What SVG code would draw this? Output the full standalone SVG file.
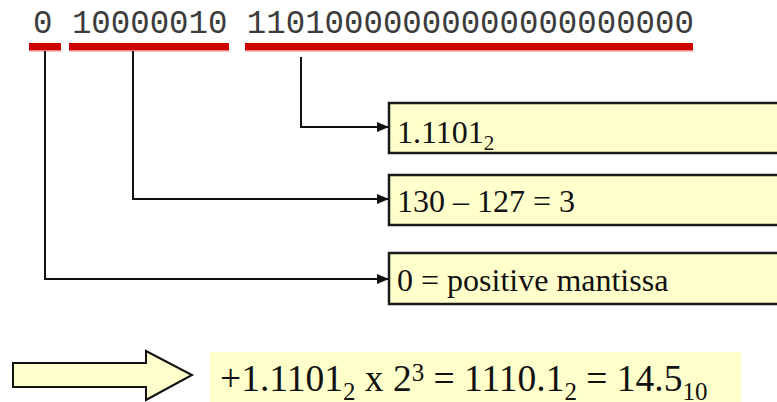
<svg xmlns="http://www.w3.org/2000/svg" width="777" height="402" viewBox="0 0 777 402">
<style>
.bits{font-family:"Liberation Mono",monospace;font-size:32.4px;fill:#3c3c3c}
.bar{fill:#CC0000}
.barlo{fill:#EE8888}
.box{fill:#FFFFCC;stroke:#1a1a1a;stroke-width:2.5}
.lbl{font-family:"Liberation Serif","Times New Roman",serif;font-size:32px;fill:#111}
.conn{fill:none;stroke:#111;stroke-width:2}
.res{font-family:"Liberation Serif","Times New Roman",serif;font-size:37.5px;fill:#111}
</style>
<defs>
<marker id="ah" viewBox="0 0 12 10" refX="12" refY="5" markerWidth="12" markerHeight="10" markerUnits="userSpaceOnUse" orient="auto">
<path d="M0,0 L12,5 L0,10 Z" fill="#111"/>
</marker>
</defs>
<g id="bits">
<text class="bits" x="33" y="33" xml:space="preserve">0 10000010 11010000000000000000000</text>
<rect class="bar" x="29" y="43" width="32" height="7"/>
<rect class="barlo" x="29" y="50" width="32" height="1.5"/>
<rect class="bar" x="69" y="43" width="160" height="7"/>
<rect class="barlo" x="69" y="50" width="160" height="1.5"/>
<rect class="bar" x="245" y="43" width="448" height="7"/>
<rect class="barlo" x="245" y="50" width="448" height="1.5"/>
</g>
<g id="connectors">
<path class="conn" d="M301,57 V127 H389" marker-end="url(#ah)"/>
<path class="conn" d="M133,51 V199 H389" marker-end="url(#ah)"/>
<path class="conn" d="M45,51 V279 H389" marker-end="url(#ah)"/>
</g>
<g id="box-mantissa">
<rect class="box" x="389" y="103" width="400" height="50"/>
<text class="lbl" x="397" y="143">1.1101<tspan font-size="21" dy="7">2</tspan></text>
</g>
<g id="box-exponent">
<rect class="box" x="389" y="175" width="400" height="50"/>
<text class="lbl" x="397" y="212">130 – 127 = 3</text>
</g>
<g id="box-sign">
<rect class="box" x="389" y="253" width="400" height="51"/>
<text class="lbl" x="397" y="291">0 = positive mantissa</text>
</g>
<g id="result-arrow">
<polygon points="13,363 146,363 146,351 192,375 146,400 146,387 13,387" fill="#FFFFCC" stroke="#111" stroke-width="2" stroke-linejoin="miter"/>
</g>
<g id="result">
<rect x="210" y="352" width="531" height="50" fill="#FFFFCC"/>
<text class="res" x="220" y="391">+1.1101<tspan font-size="25" dy="9">2</tspan><tspan dy="-9"> x 2</tspan><tspan font-size="25" dy="-10">3</tspan><tspan dy="10"> = 1110.1</tspan><tspan font-size="25" dy="9">2</tspan><tspan dy="-9"> = 14.5</tspan><tspan font-size="25" dy="9">10</tspan></text>
</g>
</svg>
